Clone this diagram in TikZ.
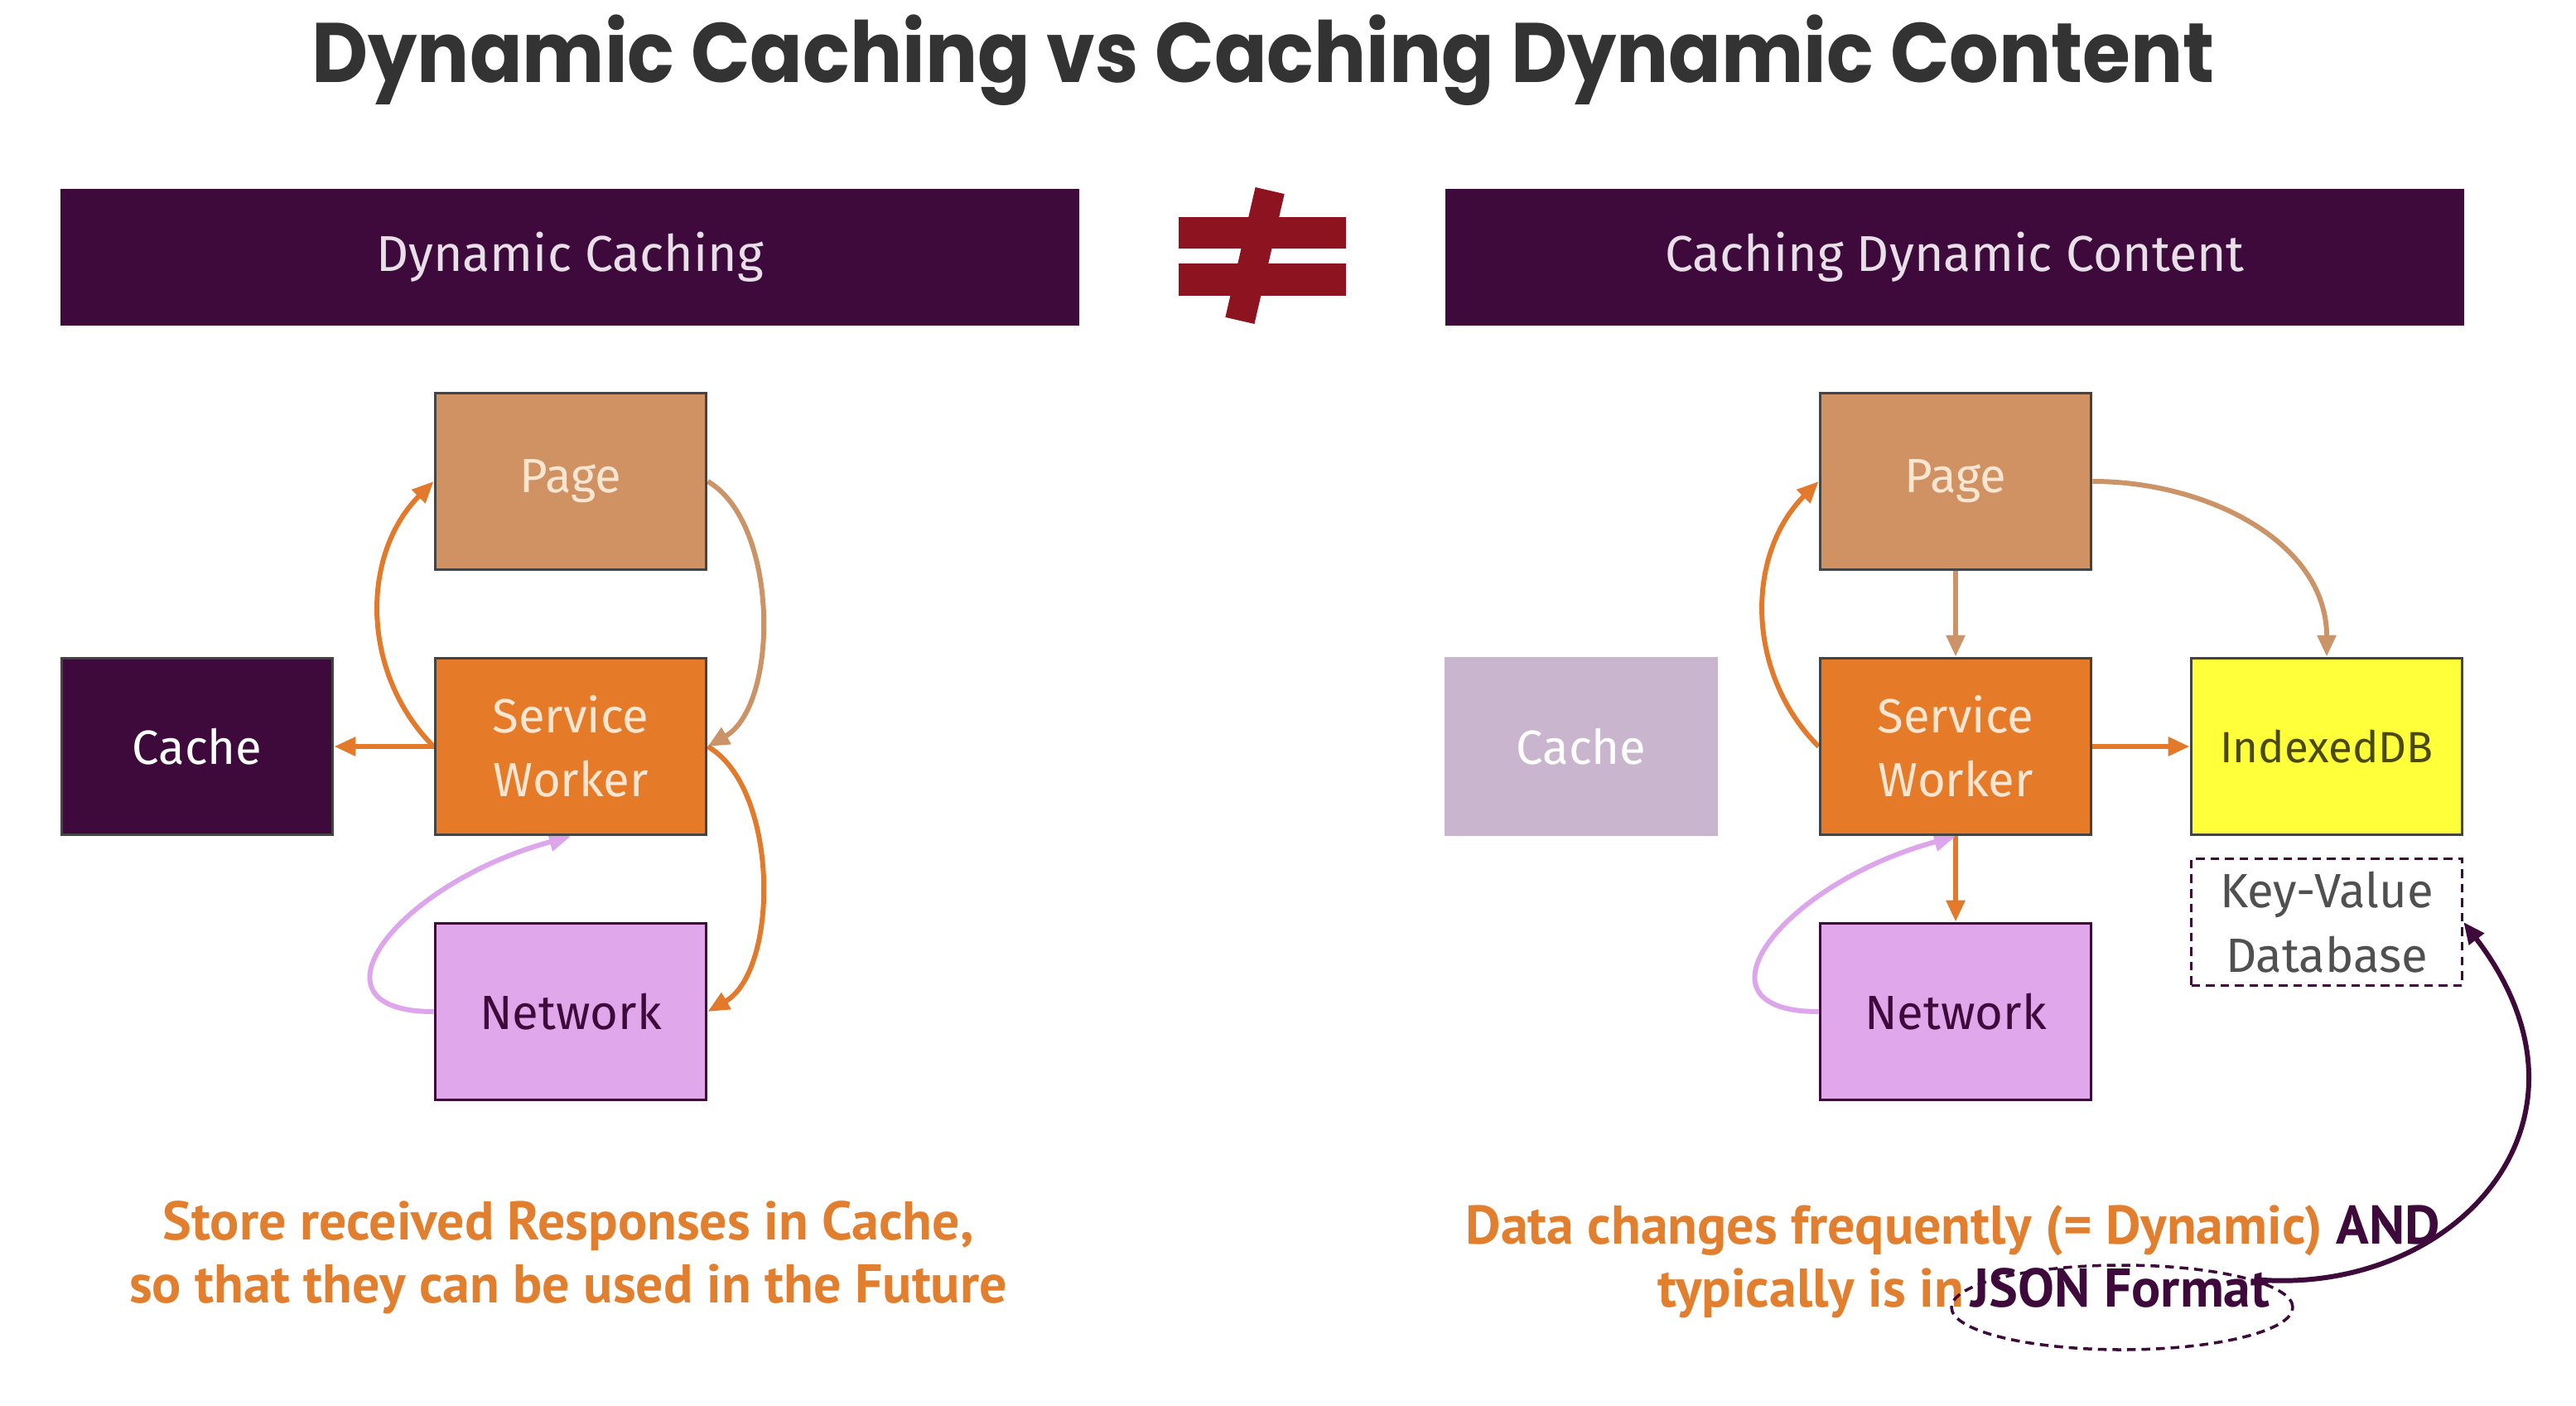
\documentclass[tikz,border=0pt]{standalone}
\usepackage{fontspec}
\setmainfont{Fira Sans}
\newfontfamily\titlefont{Poppins}[FakeStretch=0.92]
\newfontfamily\notefont{PT Sans}
\usetikzlibrary{arrows.meta,shapes.geometric}
\pgfdeclarelayer{bg}
\pgfsetlayers{bg,main}
\definecolor{plum}{HTML}{3D0A3B}
\definecolor{titlegray}{HTML}{333333}
\definecolor{bartext}{HTML}{E9DFE9}
\definecolor{boxline}{HTML}{444444}
\definecolor{pagefill}{HTML}{D09262}
\definecolor{swfill}{HTML}{E57A29}
\definecolor{netfill}{HTML}{E0A8EA}
\definecolor{fadefill}{HTML}{C9B5CD}
\definecolor{idbfill}{HTML}{FFFF3A}
\definecolor{idbtext}{HTML}{4A4A10}
\definecolor{kvtext}{HTML}{505050}
\definecolor{boxtext}{HTML}{F8E6D2}
\definecolor{neqred}{HTML}{8E1320}
\definecolor{noteorange}{HTML}{E27F2F}
\definecolor{orangeline}{HTML}{E2792B}
\definecolor{tanline}{HTML}{CC9466}
\definecolor{lilacline}{HTML}{DDA6EC}

\begin{document}
\begin{tikzpicture}[
        box/.style={draw=boxline, line width=1.1pt, minimum width=3.27cm, minimum height=2.13cm,
                inner sep=0pt, align=center, font=\fontsize{16.5}{22}\selectfont},
        bar/.style={fill=plum, minimum width=12.3cm, minimum height=1.65cm, text=bartext,
                font=\fontsize{17.3}{20}\selectfont},
        note/.style={text=noteorange, font=\notefont\bfseries\fontsize{18.7}{21.6}\selectfont,
                align=center, inner sep=0pt},
        arr/.style={line width=1.7pt, -{Triangle[length=2.6mm,width=2.2mm]}},
]
        \useasboundingbox (0cm, 0cm) rectangle (31.1cm, 16.96cm);

        \node (title) [text=titlegray, font=\titlefont\bfseries\fontsize{29}{34}\selectfont] at (15.25cm, 16.23cm) {Dynamic Caching vs Caching Dynamic Content};
        \node (barl) [bar] at (6.88cm, 13.855cm) {Dynamic Caching};
        \node (barr) [bar] at (23.60cm, 13.855cm) {Caching Dynamic Content};

        \fill[neqred] (14.23cm, 14.34cm) rectangle (16.25cm, 13.96cm);
        \fill[neqred] (14.23cm, 13.78cm) rectangle (16.25cm, 13.39cm);
        \fill[neqred, rotate around={-13:(15.15cm, 13.875cm)}] (14.97cm, 13.07cm) rectangle (15.33cm, 14.68cm);

        \node (cachel) [box, fill=plum, text=white] at (2.38cm, 7.95cm) {Cache};
        \node (pagel) [box, fill=pagefill, text=boxtext] at (6.89cm, 11.15cm) {Page};
        \node (swl) [box, fill=swfill, text=boxtext] at (6.89cm, 7.95cm) {Service\\Worker};
        \node (netl) [box, fill=netfill, draw=plum, text=plum] at (6.89cm, 4.75cm) {Network};

        \node (cacher) [box, fill=fadefill, draw=fadefill, text=white] at (19.09cm, 7.95cm) {Cache};
        \node (pager) [box, fill=pagefill, text=boxtext] at (23.61cm, 11.15cm) {Page};
        \node (swr) [box, fill=swfill, text=boxtext] at (23.61cm, 7.95cm) {Service\\Worker};
        \node (netr) [box, fill=netfill, draw=plum, text=plum] at (23.61cm, 4.75cm) {Network};
        \node (idb) [box, fill=idbfill, text=idbtext, font=\fontsize{15}{20}\selectfont] at (28.09cm, 7.95cm) {IndexedDB};
        \node (kv) [draw=plum, line width=1pt, dash pattern=on 3pt off 2pt, minimum width=3.27cm, minimum height=1.53cm,
                inner sep=0pt, align=center, text=kvtext, font=\fontsize{16.5}{22}\selectfont] at (28.09cm, 5.83cm) {Key-Value\\Database};

        \node (notel) [note] at (6.86cm, 1.78cm) {Store received Responses in Cache,\\so that they can be used in the Future};
        \node (noter) [note, anchor=base] at (23.58cm, 1.95cm) {Data changes frequently (= Dynamic) \textcolor{plum}{AND}};
        \node (jsontxt) [note, text=plum, anchor=base] at (25.60cm, 1.19cm) {JSON Format};
        \node (typ) [note, anchor=base east] at ([xshift=-2pt]jsontxt.base west) {typically is in};
        \node (ring) [ellipse, draw=plum, line width=1pt, dash pattern=on 3pt off 2pt, minimum width=4.12cm, minimum height=1.02cm] at (25.62cm, 1.18cm) {};

        \begin{pgfonlayer}{bg}
                \fill[white] (0cm, 0cm) rectangle (31.1cm, 16.96cm);
                \draw (swl) edge [arr, orangeline] (cachel);
                \draw (swl.west) edge [arr, orangeline, out=135, in=-135] (pagel.west);
                \draw (pagel.east) edge [arr, tanline, out=-30, in=30, looseness=0.8] (swl.east);
                \draw (swl.east) edge [arr, orangeline, out=-30, in=30, looseness=0.8] (netl.east);
                \draw [arr, lilacline] (netl.west) .. controls (3.6cm, 4.75cm) and (4.8cm, 6.3cm) .. (swl.south);

                \draw (pager) edge [arr, tanline] (swr);
                \draw (swr.west) edge [arr, orangeline, out=135, in=-135] (pager.west);
                \draw (pager.east) edge [arr, tanline, out=0, in=90] (idb.north);
                \draw (swr) edge [arr, orangeline] (idb);
                \draw (swr) edge [arr, orangeline] (netr);
                \draw [arr, lilacline] (netr.west) .. controls (20.32cm, 4.75cm) and (21.52cm, 6.3cm) .. (swr.south);
                \draw [arr, plum] (ring.12) .. controls (29.6cm, 1.3cm) and (31.6cm, 3.4cm) .. (kv.east);
        \end{pgfonlayer}
\end{tikzpicture}
\end{document}
